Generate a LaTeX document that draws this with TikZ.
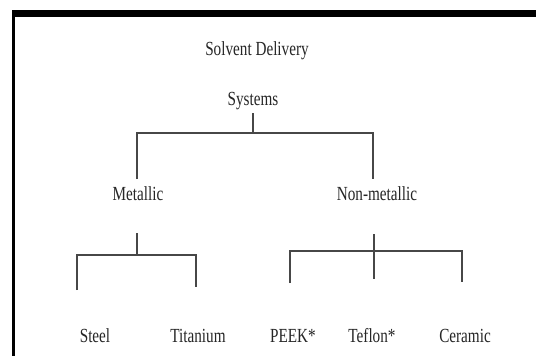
\documentclass[tikz,border=0pt]{standalone}
\usepackage{fontspec}
\setmainfont{Liberation Serif}[FakeStretch=0.76]
\begin{document}
\begin{tikzpicture}[x=1pt,y=-1pt,
  lbl/.style={anchor=base,inner sep=0pt,text=black!85,font=\fontsize{20}{23}\selectfont},
  conn/.style={draw=black!72,line width=1.4pt}]
\useasboundingbox[fill=white] (0,0) rectangle (536,356);
% frame
\fill[black] (12,10) rectangle (536,17);
\fill[black] (12,10) rectangle (14.5,356);
% labels
\node[lbl] (sd) at (257,55) {Solvent Delivery};
\node[lbl] (sys) at (253,105) {Systems};
\node[lbl] (met) at (138,200) {Metallic};
\node[lbl] (non) at (377,200) {Non-metallic};
\node[lbl] (steel) at (95,342) {Steel};
\node[lbl] (tit) at (198,342) {Titanium};
\node[lbl] (peek) at (293,342) {PEEK*};
\node[lbl] (tef) at (372,342) {Teflon*};
\node[lbl] (cer) at (465,342) {Ceramic};
% junction coordinates
\coordinate (sysb) at (253,113);
\coordinate (j1) at (253,133);
\coordinate (metT) at (137,179);
\coordinate (nonT) at (373,179);
\coordinate (metB) at (137,233);
\coordinate (j2) at (137,255);
\coordinate (steelT) at (77,290);
\coordinate (titT) at (196,287);
\coordinate (nonB) at (374,234);
\coordinate (j3) at (374,251);
\coordinate (peekT) at (290,283);
\coordinate (tefT) at (374,279);
\coordinate (cerT) at (462,282);
% connectors
\draw[conn] (sysb) -- (j1);
\draw[conn] (metT) |- (j1) -| (nonT);
\draw[conn] (metB) -- (j2);
\draw[conn] (steelT) |- (j2) -| (titT);
\draw[conn] (nonB) -- (tefT);
\draw[conn] (peekT) |- (j3) -| (cerT);
\end{tikzpicture}
\end{document}
